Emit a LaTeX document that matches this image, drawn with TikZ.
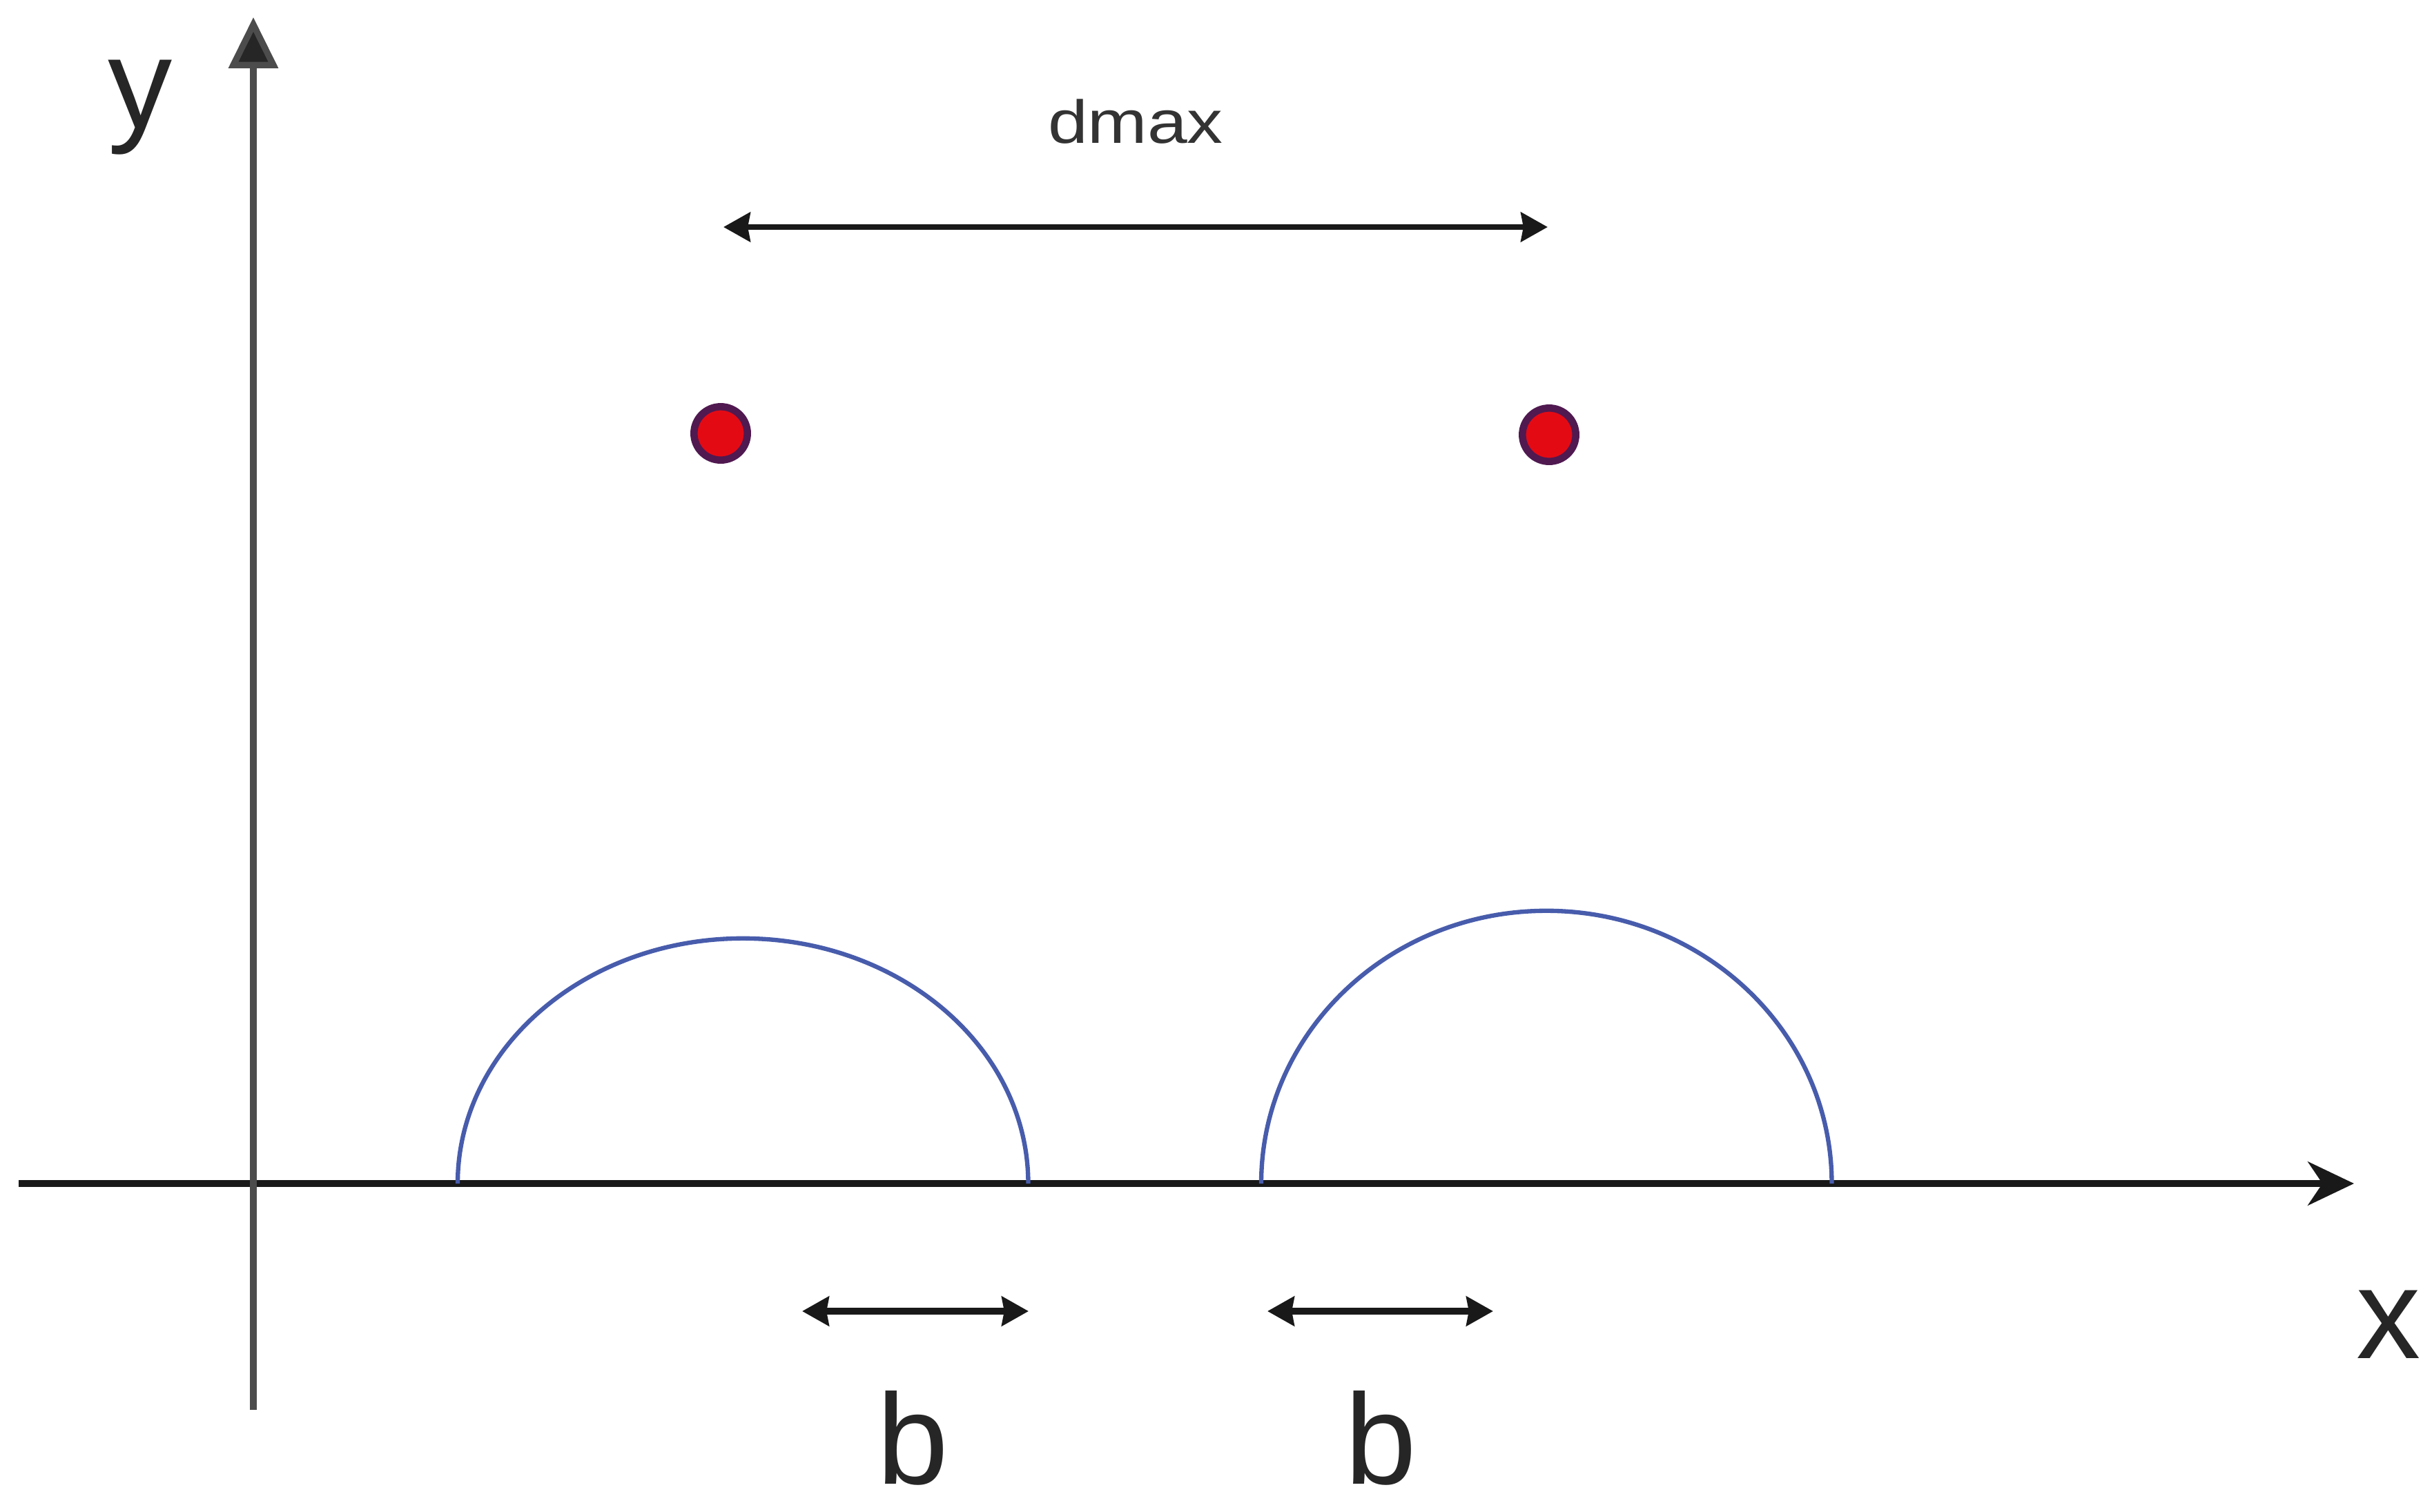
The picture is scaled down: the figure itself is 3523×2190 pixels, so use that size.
\documentclass[tikz,border=0pt]{standalone}
\usepackage{fontspec}
\setmainfont{Liberation Sans}
\usetikzlibrary{arrows.meta}
\definecolor{arcblue}{RGB}{72,92,172}
\definecolor{dotred}{RGB}{228,10,20}
\definecolor{dotrim}{RGB}{80,25,80}
\begin{document}
\begin{tikzpicture}[x=0.01cm,y=0.01cm,
  xaxis/.style={line width=2.6pt, draw=black!90, -{Stealth[length=19pt,width=18pt,inset=6pt]}},
  yaxis/.style={line width=2.6pt, draw=black!70, -{Triangle[length=21pt,width=20pt,fill=black!85]}},
  dimarrow/.style={line width=2.4pt, draw=black!90, {Stealth[length=11pt,width=12pt,inset=1pt]}-{Stealth[length=11pt,width=12pt,inset=1pt]}},
  bump/.style={line width=1.8pt, draw=arcblue},
  reddot/.style={circle, fill=dotred, draw=dotrim, line width=3pt, minimum size=22pt, inner sep=0pt},
  biglabel/.style={font=\fontsize{53}{60}\selectfont, text=black!85, inner sep=0pt, anchor=base},
  smalllabel/.style={font=\fontsize{25}{30}\selectfont, text=black!80, inner sep=0pt, anchor=base, xscale=1.18}]
\useasboundingbox (0,0) rectangle (3523,-2190);

% axes
\coordinate (xs) at (27,-1715);
\coordinate (xe) at (3410,-1715);
\coordinate (ys) at (367,-2043);
\coordinate (ye) at (367,-25);
\draw[xaxis] (xs) -- (xe);
\draw[yaxis] (ys) -- (ye);
\node[biglabel] (ylab) at (203,-185) {y};
\node[biglabel] (xlab) at (3460,-1968) {x};

% bumps
\coordinate (b1s) at (663,-1715);
\coordinate (b2s) at (1827,-1715);
\draw[bump] (b1s) arc[start angle=180, end angle=0, x radius=4.13cm, y radius=3.55cm];
\draw[bump] (b2s) arc[start angle=180, end angle=0, x radius=4.13cm, y radius=3.95cm];

% red dots
\node[reddot] (d1) at (1044,-628) {};
\node[reddot] (d2) at (2244,-630) {};

% dmax
\coordinate (m1) at (1048,-329);
\coordinate (m2) at (2242,-329);
\draw[dimarrow] (m1) -- (m2);
\node[smalllabel] (dmax) at (1645,-207) {dmax};

% b arrows
\coordinate (a1) at (1162,-1900);
\coordinate (a2) at (1490,-1900);
\coordinate (c1) at (1836,-1900);
\coordinate (c2) at (2163,-1900);
\draw[dimarrow, line width=2.8pt] (a1) -- (a2);
\draw[dimarrow, line width=2.8pt] (c1) -- (c2);
\node[biglabel] (bl1) at (1322,-2150) {b};
\node[biglabel] (bl2) at (2000,-2150) {b};
\end{tikzpicture}
\end{document}
